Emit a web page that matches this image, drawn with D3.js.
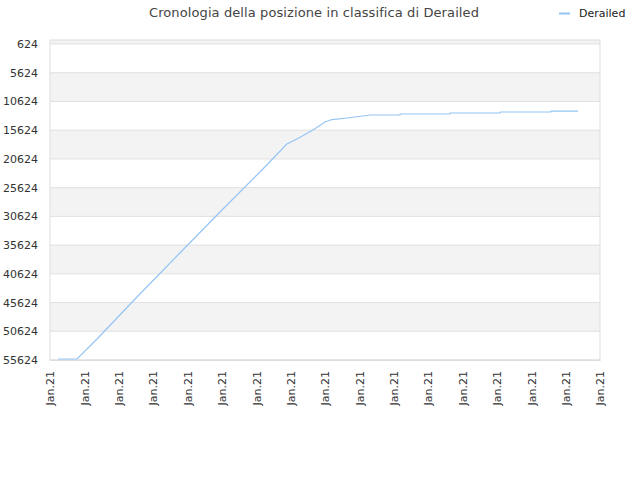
<!DOCTYPE html>
<html>
<head>
<meta charset="utf-8">
<script src="https://cdn.jsdelivr.net/npm/d3@7"></script>
<style>
  body { margin: 0; background: #fff; }
  text { font-family: "DejaVu Sans", sans-serif; }
</style>
</head>
<body>
<div id="chart"></div>
<script>
const title = "Cronologia della posizione in classifica di Derailed";
const seriesName = "Derailed";

// positions in the chart
const dates = [
  "2021-01-01T05:35", "2021-01-01T18:50", "2021-01-02T08:50", "2021-01-03T13:25",
  "2021-01-04T18:40", "2021-01-06T00:45", "2021-01-07T06:00", "2021-01-07T21:20",
  "2021-01-08T04:25", "2021-01-08T15:35", "2021-01-09T00:00", "2021-01-09T04:50",
  "2021-01-09T15:20", "2021-01-10T02:25", "2021-01-10T07:25", "2021-01-11T04:20",
  "2021-01-11T04:30", "2021-01-12T15:20", "2021-01-12T15:30", "2021-01-14T02:10",
  "2021-01-14T02:20", "2021-01-15T13:40", "2021-01-15T13:50", "2021-01-16T08:40"
];
const ranks = [
  55450, 55450, 51970, 44490,
  37000, 29340, 22030, 18030,
  17160, 15590, 14200, 13770,
  13500, 13160, 12980, 12980,
  12810, 12810, 12630, 12630,
  12460, 12460, 12290, 12290
];

const yTicks = [624, 5624, 10624, 15624, 20624, 25624, 30624, 35624, 40624, 45624, 50624, 55624];
const xStart = "2021-01-01";
const xEnd = "2021-01-17";

const width = 640;
const height = 480;
const margin = { top: 40, right: 40, bottom: 120, left: 50 };

const parse = d3.timeParse("%Y-%m-%dT%H:%M");
const parseDay = d3.timeParse("%Y-%m-%d");

const data = dates.map((d, i) => ({ date: parse(d), rank: ranks[i] }));

const svg = d3.select("#chart")
  .append("svg")
  .attr("width", width)
  .attr("height", height);

const xScale = d3.scaleTime()
  .domain([parseDay(xStart), parseDay(xEnd)])
  .range([margin.left, width - margin.right]);

const yScale = d3.scaleLinear()
  .domain([-72, 55624])
  .range([margin.top, height - margin.bottom]);

// Alternating bands
const bandEdges = [yScale.domain()[0]].concat(yTicks);
for (let i = 0; i < bandEdges.length - 1; i++) {
  svg.append("rect")
    .attr("x", margin.left)
    .attr("y", yScale(bandEdges[i]))
    .attr("width", width - margin.right - margin.left)
    .attr("height", yScale(bandEdges[i + 1]) - yScale(bandEdges[i]))
    .attr("fill", i % 2 === 0 ? "#f3f3f3" : "#ffffff");
}

// Grid lines
svg.selectAll(".grid")
  .data(yTicks)
  .enter()
  .append("line")
  .attr("x1", margin.left)
  .attr("x2", width - margin.right)
  .attr("y1", d => yScale(d))
  .attr("y2", d => yScale(d))
  .attr("stroke", "#e0e0e0")
  .attr("stroke-width", 1);

// Frame
svg.append("rect")
  .attr("x", margin.left)
  .attr("y", margin.top)
  .attr("width", width - margin.right - margin.left)
  .attr("height", height - margin.bottom - margin.top)
  .attr("fill", "none")
  .attr("stroke", "#dddddd")
  .attr("stroke-width", 1);

// Y axis
const yAxis = svg.append("g")
  .attr("transform", `translate(${margin.left}, 0)`)
  .call(d3.axisLeft(yScale).tickValues(yTicks).tickSize(0).tickPadding(12).tickFormat(d3.format("d")));
yAxis.select(".domain").remove();
yAxis.selectAll("text")
  .style("font-size", "11px")
  .style("font-family", "DejaVu Sans")
  .attr("fill", "#333");

// X axis
const xAxis = svg.append("g")
  .attr("transform", `translate(0, ${height - margin.bottom})`)
  .call(d3.axisBottom(xScale).ticks(d3.timeDay.every(1)).tickSize(0).tickFormat(d3.timeFormat("%b.%y")));
xAxis.select(".domain").attr("stroke", "#dddddd");
xAxis.selectAll("text")
  .style("font-size", "11px")
  .style("font-family", "DejaVu Sans")
  .attr("fill", "#333")
  .attr("text-anchor", "end")
  .attr("transform", "rotate(-90)")
  .attr("x", -11)
  .attr("y", 0)
  .attr("dy", "0.35em");

// Line
const line = d3.line()
  .x(d => xScale(d.date))
  .y(d => yScale(d.rank));

svg.append("path")
  .datum(data)
  .attr("fill", "none")
  .attr("stroke", "#94c5f5")
  .attr("stroke-width", 1.2)
  .attr("d", line);

// Title
svg.append("text")
  .attr("x", 314)
  .attr("y", 17)
  .attr("text-anchor", "middle")
  .style("font-size", "13px")
  .style("letter-spacing", "0.1px")
  .attr("fill", "#444")
  .text(title);

// Legend
svg.append("line")
  .attr("x1", 559)
  .attr("x2", 570)
  .attr("y1", 13.5)
  .attr("y2", 13.5)
  .attr("stroke", "#94c5f5")
  .attr("stroke-width", 2);

svg.append("text")
  .attr("x", 579)
  .attr("y", 17)
  .style("font-size", "11px")
  .attr("fill", "#222")
  .text(seriesName);
</script>
</body>
</html>
